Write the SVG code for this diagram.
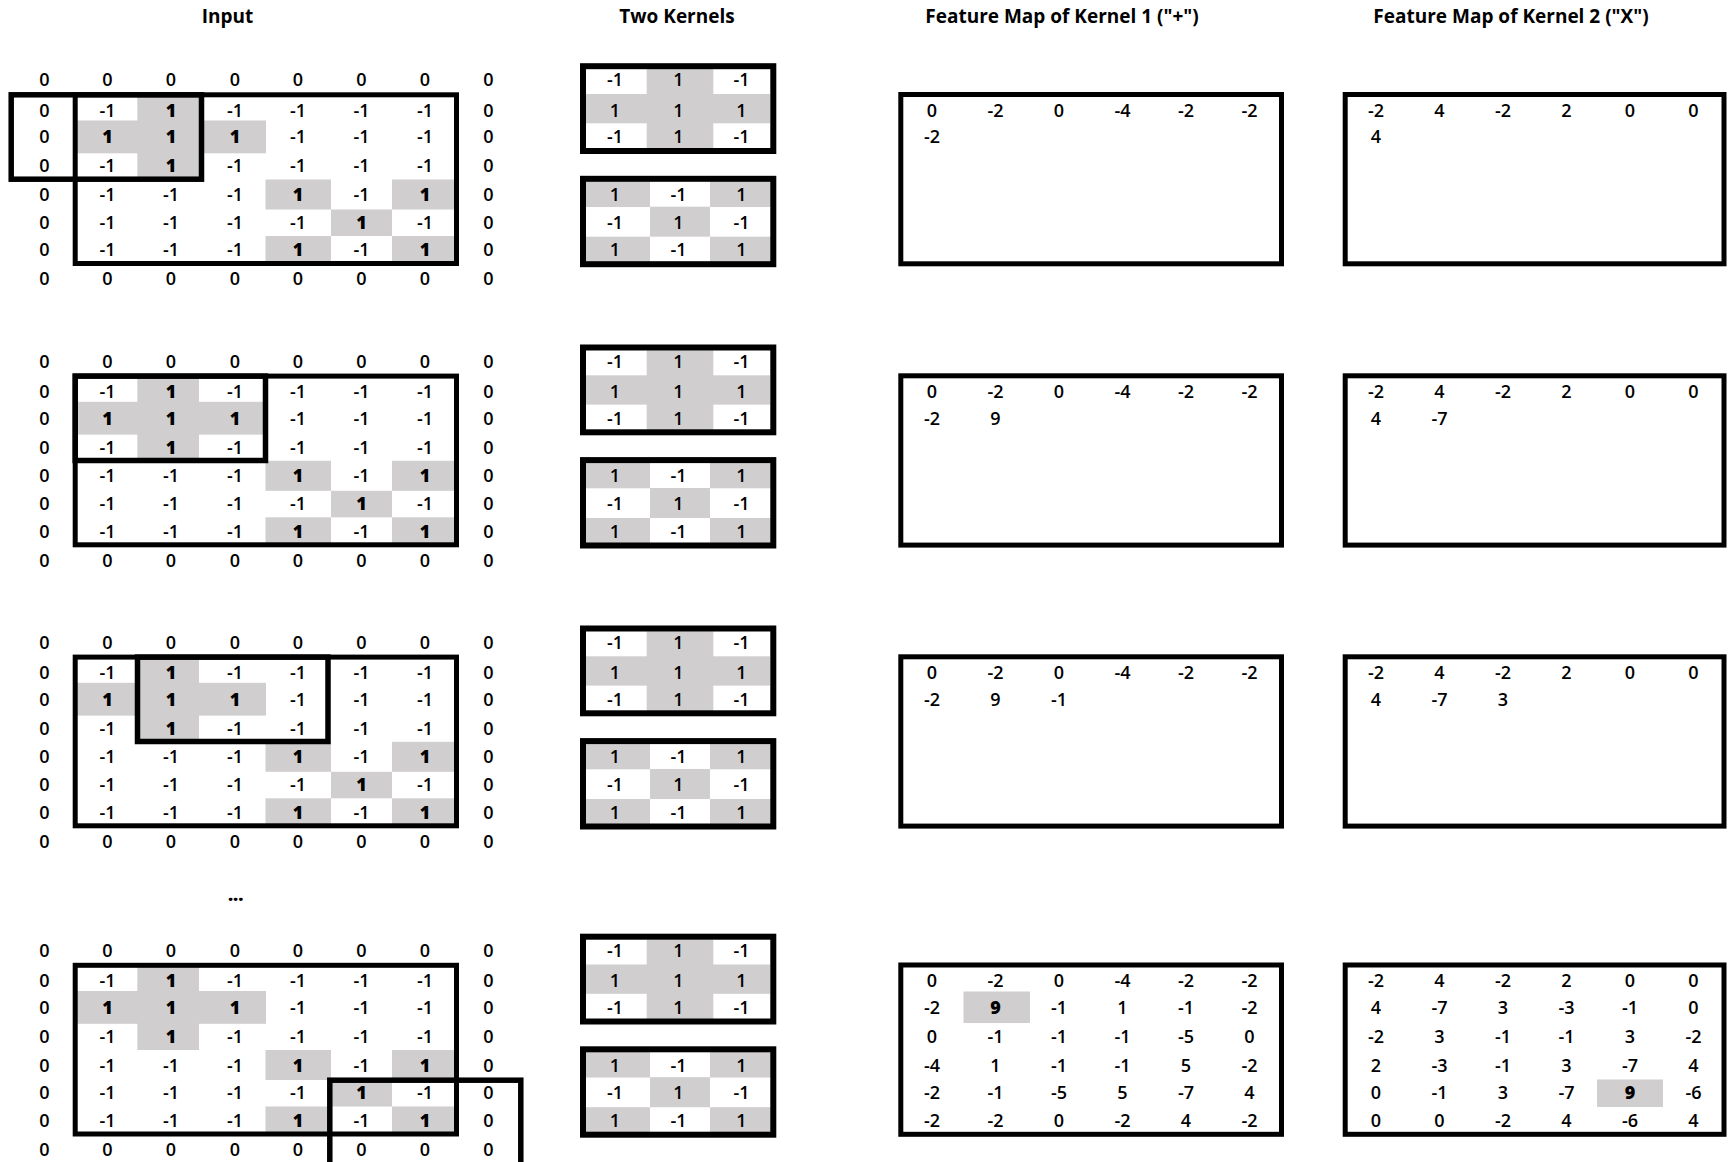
<svg xmlns="http://www.w3.org/2000/svg" width="1733" height="1162" viewBox="0 0 1733 1162">
<style>
.t{font-family:"Open Sans","Liberation Sans",sans-serif;font-size:18px;font-weight:600;text-anchor:middle;fill:#000}
.b{font-weight:800}
.title{font-family:"Open Sans","Liberation Sans",sans-serif;font-size:19px;font-weight:bold;text-anchor:middle;fill:#000}
.g{fill:#D0CECE}
.frame{fill:none;stroke:#000;stroke-width:5}
.kframe{fill:none;stroke:#000;stroke-width:6}
.win{fill:none;stroke:#000;stroke-width:5.5}
</style>
<rect width="1733" height="1162" fill="#fff"/>
<g id="titles">
<text class="title" x="227.5" y="22.5">Input</text>
<text class="title" x="677" y="22.5">Two Kernels</text>
<text class="title" x="1062" y="22.5">Feature Map of Kernel 1 ("+")</text>
<text class="title" x="1511" y="22.5">Feature Map of Kernel 2 ("X")</text>
</g>
<g id="connectors"></g>

<!-- PANEL 1 -->
<g id="panel-1">
<g id="p1-input">
<rect class="g" x="137.3" y="94.8" width="61.7" height="84.7"/>
<rect class="g" x="77" y="120.5" width="189" height="32.8"/>
<rect class="g" x="265.5" y="179.5" width="65.5" height="30"/>
<rect class="g" x="392" y="179.5" width="62" height="30"/>
<rect class="g" x="331" y="209.5" width="61" height="26.5"/>
<rect class="g" x="265.5" y="236" width="65.5" height="27.5"/>
<rect class="g" x="392" y="236" width="62" height="27.5"/>
<rect class="frame" x="75.2" y="94.8" width="381.3" height="168.7"/>
<g class="t">
<text y="86.4"><tspan x="44.5">0</tspan><tspan x="107.5">0</tspan><tspan x="171">0</tspan><tspan x="235">0</tspan><tspan x="298">0</tspan><tspan x="361.5">0</tspan><tspan x="425">0</tspan><tspan x="488.5">0</tspan></text>
<text y="116.9"><tspan x="44.5">0</tspan><tspan x="107.5">-1</tspan><tspan x="171" class="b">1</tspan><tspan x="235">-1</tspan><tspan x="298">-1</tspan><tspan x="361.5">-1</tspan><tspan x="425">-1</tspan><tspan x="488.5">0</tspan></text>
<text y="143.4"><tspan x="44.5">0</tspan><tspan x="107.5" class="b">1</tspan><tspan x="171" class="b">1</tspan><tspan x="235" class="b">1</tspan><tspan x="298">-1</tspan><tspan x="361.5">-1</tspan><tspan x="425">-1</tspan><tspan x="488.5">0</tspan></text>
<text y="172.4"><tspan x="44.5">0</tspan><tspan x="107.5">-1</tspan><tspan x="171" class="b">1</tspan><tspan x="235">-1</tspan><tspan x="298">-1</tspan><tspan x="361.5">-1</tspan><tspan x="425">-1</tspan><tspan x="488.5">0</tspan></text>
<text y="201.2"><tspan x="44.5">0</tspan><tspan x="107.5">-1</tspan><tspan x="171">-1</tspan><tspan x="235">-1</tspan><tspan x="298" class="b">1</tspan><tspan x="361.5">-1</tspan><tspan x="425" class="b">1</tspan><tspan x="488.5">0</tspan></text>
<text y="228.9"><tspan x="44.5">0</tspan><tspan x="107.5">-1</tspan><tspan x="171">-1</tspan><tspan x="235">-1</tspan><tspan x="298">-1</tspan><tspan x="361.5" class="b">1</tspan><tspan x="425">-1</tspan><tspan x="488.5">0</tspan></text>
<text y="256.4"><tspan x="44.5">0</tspan><tspan x="107.5">-1</tspan><tspan x="171">-1</tspan><tspan x="235">-1</tspan><tspan x="298" class="b">1</tspan><tspan x="361.5">-1</tspan><tspan x="425" class="b">1</tspan><tspan x="488.5">0</tspan></text>
<text y="285.4"><tspan x="44.5">0</tspan><tspan x="107.5">0</tspan><tspan x="171">0</tspan><tspan x="235">0</tspan><tspan x="298">0</tspan><tspan x="361.5">0</tspan><tspan x="425">0</tspan><tspan x="488.5">0</tspan></text>
</g>
</g>
<g id="p1-window"><rect class="win" x="11.2" y="94.8" width="190.3" height="84.4"/></g>
<g id="p1-kernel-plus">
<rect class="g" x="646.7" y="69" width="66.6" height="80"/>
<rect class="g" x="586" y="94" width="184" height="29.3"/>
<rect class="kframe" x="583" y="66.2" width="190.3" height="84.8"/>
<g class="t">
<text y="86.4"><tspan x="615">-1</tspan><tspan x="678.5">1</tspan><tspan x="741.5">-1</tspan></text>
<text y="116.9"><tspan x="615">1</tspan><tspan x="678.5">1</tspan><tspan x="741.5">1</tspan></text>
<text y="143.4"><tspan x="615">-1</tspan><tspan x="678.5">1</tspan><tspan x="741.5">-1</tspan></text>
</g>
</g>
<g id="p1-kernel-x">
<rect class="g" x="586" y="181" width="64" height="26"/>
<rect class="g" x="710" y="181" width="61" height="26"/>
<rect class="g" x="650" y="206.7" width="60" height="30"/>
<rect class="g" x="586" y="236.7" width="64" height="26"/>
<rect class="g" x="710" y="236.7" width="61" height="26"/>
<rect class="kframe" x="583" y="178.8" width="190.3" height="85.4"/>
<g class="t">
<text y="201.2"><tspan x="615">1</tspan><tspan x="678.5">-1</tspan><tspan x="741.5">1</tspan></text>
<text y="228.9"><tspan x="615">-1</tspan><tspan x="678.5">1</tspan><tspan x="741.5">-1</tspan></text>
<text y="256.4"><tspan x="615">1</tspan><tspan x="678.5">-1</tspan><tspan x="741.5">1</tspan></text>
</g>
</g>
<g id="p1-fmap1">
<rect class="frame" x="900.8" y="94.5" width="380.7" height="169.3"/>
<g class="t">
<text y="116.9"><tspan x="932">0</tspan><tspan x="995.5">-2</tspan><tspan x="1059">0</tspan><tspan x="1122.5">-4</tspan><tspan x="1186">-2</tspan><tspan x="1249.5">-2</tspan></text>
<text y="143.4"><tspan x="932">-2</tspan></text>
</g>
</g>
<g id="p1-fmap2">
<rect class="frame" x="1345.2" y="94.5" width="378.8" height="169.3"/>
<g class="t">
<text y="116.9"><tspan x="1376">-2</tspan><tspan x="1439.5">4</tspan><tspan x="1503">-2</tspan><tspan x="1566.5">2</tspan><tspan x="1630">0</tspan><tspan x="1693.5">0</tspan></text>
<text y="143.4"><tspan x="1376">4</tspan></text>
</g>
</g>
</g>

<!-- PANEL 2 -->
<g id="panel-2" transform="translate(0,281.3)">
<g id="p2-input">
<rect class="g" x="137.3" y="94.8" width="61.7" height="84.7"/>
<rect class="g" x="77" y="120.5" width="189" height="32.8"/>
<rect class="g" x="265.5" y="179.5" width="65.5" height="30"/>
<rect class="g" x="392" y="179.5" width="62" height="30"/>
<rect class="g" x="331" y="209.5" width="61" height="26.5"/>
<rect class="g" x="265.5" y="236" width="65.5" height="27.5"/>
<rect class="g" x="392" y="236" width="62" height="27.5"/>
<rect class="frame" x="75.2" y="94.8" width="381.3" height="168.7"/>
<g class="t">
<text y="86.4"><tspan x="44.5">0</tspan><tspan x="107.5">0</tspan><tspan x="171">0</tspan><tspan x="235">0</tspan><tspan x="298">0</tspan><tspan x="361.5">0</tspan><tspan x="425">0</tspan><tspan x="488.5">0</tspan></text>
<text y="116.9"><tspan x="44.5">0</tspan><tspan x="107.5">-1</tspan><tspan x="171" class="b">1</tspan><tspan x="235">-1</tspan><tspan x="298">-1</tspan><tspan x="361.5">-1</tspan><tspan x="425">-1</tspan><tspan x="488.5">0</tspan></text>
<text y="143.4"><tspan x="44.5">0</tspan><tspan x="107.5" class="b">1</tspan><tspan x="171" class="b">1</tspan><tspan x="235" class="b">1</tspan><tspan x="298">-1</tspan><tspan x="361.5">-1</tspan><tspan x="425">-1</tspan><tspan x="488.5">0</tspan></text>
<text y="172.4"><tspan x="44.5">0</tspan><tspan x="107.5">-1</tspan><tspan x="171" class="b">1</tspan><tspan x="235">-1</tspan><tspan x="298">-1</tspan><tspan x="361.5">-1</tspan><tspan x="425">-1</tspan><tspan x="488.5">0</tspan></text>
<text y="201.2"><tspan x="44.5">0</tspan><tspan x="107.5">-1</tspan><tspan x="171">-1</tspan><tspan x="235">-1</tspan><tspan x="298" class="b">1</tspan><tspan x="361.5">-1</tspan><tspan x="425" class="b">1</tspan><tspan x="488.5">0</tspan></text>
<text y="228.9"><tspan x="44.5">0</tspan><tspan x="107.5">-1</tspan><tspan x="171">-1</tspan><tspan x="235">-1</tspan><tspan x="298">-1</tspan><tspan x="361.5" class="b">1</tspan><tspan x="425">-1</tspan><tspan x="488.5">0</tspan></text>
<text y="256.4"><tspan x="44.5">0</tspan><tspan x="107.5">-1</tspan><tspan x="171">-1</tspan><tspan x="235">-1</tspan><tspan x="298" class="b">1</tspan><tspan x="361.5">-1</tspan><tspan x="425" class="b">1</tspan><tspan x="488.5">0</tspan></text>
<text y="285.4"><tspan x="44.5">0</tspan><tspan x="107.5">0</tspan><tspan x="171">0</tspan><tspan x="235">0</tspan><tspan x="298">0</tspan><tspan x="361.5">0</tspan><tspan x="425">0</tspan><tspan x="488.5">0</tspan></text>
</g>
</g>
<g id="p2-window"><rect class="win" x="75.2" y="94.8" width="190.3" height="84.4"/></g>
<g id="p2-kernel-plus">
<rect class="g" x="646.7" y="69" width="66.6" height="80"/>
<rect class="g" x="586" y="94" width="184" height="29.3"/>
<rect class="kframe" x="583" y="66.2" width="190.3" height="84.8"/>
<g class="t">
<text y="86.4"><tspan x="615">-1</tspan><tspan x="678.5">1</tspan><tspan x="741.5">-1</tspan></text>
<text y="116.9"><tspan x="615">1</tspan><tspan x="678.5">1</tspan><tspan x="741.5">1</tspan></text>
<text y="143.4"><tspan x="615">-1</tspan><tspan x="678.5">1</tspan><tspan x="741.5">-1</tspan></text>
</g>
</g>
<g id="p2-kernel-x">
<rect class="g" x="586" y="181" width="64" height="26"/>
<rect class="g" x="710" y="181" width="61" height="26"/>
<rect class="g" x="650" y="206.7" width="60" height="30"/>
<rect class="g" x="586" y="236.7" width="64" height="26"/>
<rect class="g" x="710" y="236.7" width="61" height="26"/>
<rect class="kframe" x="583" y="178.8" width="190.3" height="85.4"/>
<g class="t">
<text y="201.2"><tspan x="615">1</tspan><tspan x="678.5">-1</tspan><tspan x="741.5">1</tspan></text>
<text y="228.9"><tspan x="615">-1</tspan><tspan x="678.5">1</tspan><tspan x="741.5">-1</tspan></text>
<text y="256.4"><tspan x="615">1</tspan><tspan x="678.5">-1</tspan><tspan x="741.5">1</tspan></text>
</g>
</g>
<g id="p2-fmap1">
<rect class="frame" x="900.8" y="94.5" width="380.7" height="169.3"/>
<g class="t">
<text y="116.9"><tspan x="932">0</tspan><tspan x="995.5">-2</tspan><tspan x="1059">0</tspan><tspan x="1122.5">-4</tspan><tspan x="1186">-2</tspan><tspan x="1249.5">-2</tspan></text>
<text y="143.4"><tspan x="932">-2</tspan><tspan x="995.5">9</tspan></text>
</g>
</g>
<g id="p2-fmap2">
<rect class="frame" x="1345.2" y="94.5" width="378.8" height="169.3"/>
<g class="t">
<text y="116.9"><tspan x="1376">-2</tspan><tspan x="1439.5">4</tspan><tspan x="1503">-2</tspan><tspan x="1566.5">2</tspan><tspan x="1630">0</tspan><tspan x="1693.5">0</tspan></text>
<text y="143.4"><tspan x="1376">4</tspan><tspan x="1439.5">-7</tspan></text>
</g>
</g>
</g>

<!-- PANEL 3 -->
<g id="panel-3" transform="translate(0,562.3)">
<g id="p3-input">
<rect class="g" x="137.3" y="94.8" width="61.7" height="84.7"/>
<rect class="g" x="77" y="120.5" width="189" height="32.8"/>
<rect class="g" x="265.5" y="179.5" width="65.5" height="30"/>
<rect class="g" x="392" y="179.5" width="62" height="30"/>
<rect class="g" x="331" y="209.5" width="61" height="26.5"/>
<rect class="g" x="265.5" y="236" width="65.5" height="27.5"/>
<rect class="g" x="392" y="236" width="62" height="27.5"/>
<rect class="frame" x="75.2" y="94.8" width="381.3" height="168.7"/>
<g class="t">
<text y="86.4"><tspan x="44.5">0</tspan><tspan x="107.5">0</tspan><tspan x="171">0</tspan><tspan x="235">0</tspan><tspan x="298">0</tspan><tspan x="361.5">0</tspan><tspan x="425">0</tspan><tspan x="488.5">0</tspan></text>
<text y="116.9"><tspan x="44.5">0</tspan><tspan x="107.5">-1</tspan><tspan x="171" class="b">1</tspan><tspan x="235">-1</tspan><tspan x="298">-1</tspan><tspan x="361.5">-1</tspan><tspan x="425">-1</tspan><tspan x="488.5">0</tspan></text>
<text y="143.4"><tspan x="44.5">0</tspan><tspan x="107.5" class="b">1</tspan><tspan x="171" class="b">1</tspan><tspan x="235" class="b">1</tspan><tspan x="298">-1</tspan><tspan x="361.5">-1</tspan><tspan x="425">-1</tspan><tspan x="488.5">0</tspan></text>
<text y="172.4"><tspan x="44.5">0</tspan><tspan x="107.5">-1</tspan><tspan x="171" class="b">1</tspan><tspan x="235">-1</tspan><tspan x="298">-1</tspan><tspan x="361.5">-1</tspan><tspan x="425">-1</tspan><tspan x="488.5">0</tspan></text>
<text y="201.2"><tspan x="44.5">0</tspan><tspan x="107.5">-1</tspan><tspan x="171">-1</tspan><tspan x="235">-1</tspan><tspan x="298" class="b">1</tspan><tspan x="361.5">-1</tspan><tspan x="425" class="b">1</tspan><tspan x="488.5">0</tspan></text>
<text y="228.9"><tspan x="44.5">0</tspan><tspan x="107.5">-1</tspan><tspan x="171">-1</tspan><tspan x="235">-1</tspan><tspan x="298">-1</tspan><tspan x="361.5" class="b">1</tspan><tspan x="425">-1</tspan><tspan x="488.5">0</tspan></text>
<text y="256.4"><tspan x="44.5">0</tspan><tspan x="107.5">-1</tspan><tspan x="171">-1</tspan><tspan x="235">-1</tspan><tspan x="298" class="b">1</tspan><tspan x="361.5">-1</tspan><tspan x="425" class="b">1</tspan><tspan x="488.5">0</tspan></text>
<text y="285.4"><tspan x="44.5">0</tspan><tspan x="107.5">0</tspan><tspan x="171">0</tspan><tspan x="235">0</tspan><tspan x="298">0</tspan><tspan x="361.5">0</tspan><tspan x="425">0</tspan><tspan x="488.5">0</tspan></text>
</g>
</g>
<g id="p3-window"><rect class="win" x="137.5" y="94.8" width="190.5" height="84.4"/></g>
<g id="p3-kernel-plus">
<rect class="g" x="646.7" y="69" width="66.6" height="80"/>
<rect class="g" x="586" y="94" width="184" height="29.3"/>
<rect class="kframe" x="583" y="66.2" width="190.3" height="84.8"/>
<g class="t">
<text y="86.4"><tspan x="615">-1</tspan><tspan x="678.5">1</tspan><tspan x="741.5">-1</tspan></text>
<text y="116.9"><tspan x="615">1</tspan><tspan x="678.5">1</tspan><tspan x="741.5">1</tspan></text>
<text y="143.4"><tspan x="615">-1</tspan><tspan x="678.5">1</tspan><tspan x="741.5">-1</tspan></text>
</g>
</g>
<g id="p3-kernel-x">
<rect class="g" x="586" y="181" width="64" height="26"/>
<rect class="g" x="710" y="181" width="61" height="26"/>
<rect class="g" x="650" y="206.7" width="60" height="30"/>
<rect class="g" x="586" y="236.7" width="64" height="26"/>
<rect class="g" x="710" y="236.7" width="61" height="26"/>
<rect class="kframe" x="583" y="178.8" width="190.3" height="85.4"/>
<g class="t">
<text y="201.2"><tspan x="615">1</tspan><tspan x="678.5">-1</tspan><tspan x="741.5">1</tspan></text>
<text y="228.9"><tspan x="615">-1</tspan><tspan x="678.5">1</tspan><tspan x="741.5">-1</tspan></text>
<text y="256.4"><tspan x="615">1</tspan><tspan x="678.5">-1</tspan><tspan x="741.5">1</tspan></text>
</g>
</g>
<g id="p3-fmap1">
<rect class="frame" x="900.8" y="94.5" width="380.7" height="169.3"/>
<g class="t">
<text y="116.9"><tspan x="932">0</tspan><tspan x="995.5">-2</tspan><tspan x="1059">0</tspan><tspan x="1122.5">-4</tspan><tspan x="1186">-2</tspan><tspan x="1249.5">-2</tspan></text>
<text y="143.4"><tspan x="932">-2</tspan><tspan x="995.5">9</tspan><tspan x="1059">-1</tspan></text>
</g>
</g>
<g id="p3-fmap2">
<rect class="frame" x="1345.2" y="94.5" width="378.8" height="169.3"/>
<g class="t">
<text y="116.9"><tspan x="1376">-2</tspan><tspan x="1439.5">4</tspan><tspan x="1503">-2</tspan><tspan x="1566.5">2</tspan><tspan x="1630">0</tspan><tspan x="1693.5">0</tspan></text>
<text y="143.4"><tspan x="1376">4</tspan><tspan x="1439.5">-7</tspan><tspan x="1503">3</tspan></text>
</g>
</g>
</g>

<g id="ellipsis"><text class="t b" x="235.7" y="900.5">...</text></g>

<!-- PANEL 4 -->
<g id="panel-4" transform="translate(0,870.5)">
<g id="p4-input">
<rect class="g" x="137.3" y="94.8" width="61.7" height="84.7"/>
<rect class="g" x="77" y="120.5" width="189" height="32.8"/>
<rect class="g" x="265.5" y="179.5" width="65.5" height="30"/>
<rect class="g" x="392" y="179.5" width="62" height="30"/>
<rect class="g" x="331" y="209.5" width="61" height="26.5"/>
<rect class="g" x="265.5" y="236" width="65.5" height="27.5"/>
<rect class="g" x="392" y="236" width="62" height="27.5"/>
<rect class="frame" x="75.2" y="94.8" width="381.3" height="168.7"/>
<g class="t">
<text y="86.4"><tspan x="44.5">0</tspan><tspan x="107.5">0</tspan><tspan x="171">0</tspan><tspan x="235">0</tspan><tspan x="298">0</tspan><tspan x="361.5">0</tspan><tspan x="425">0</tspan><tspan x="488.5">0</tspan></text>
<text y="116.9"><tspan x="44.5">0</tspan><tspan x="107.5">-1</tspan><tspan x="171" class="b">1</tspan><tspan x="235">-1</tspan><tspan x="298">-1</tspan><tspan x="361.5">-1</tspan><tspan x="425">-1</tspan><tspan x="488.5">0</tspan></text>
<text y="143.4"><tspan x="44.5">0</tspan><tspan x="107.5" class="b">1</tspan><tspan x="171" class="b">1</tspan><tspan x="235" class="b">1</tspan><tspan x="298">-1</tspan><tspan x="361.5">-1</tspan><tspan x="425">-1</tspan><tspan x="488.5">0</tspan></text>
<text y="172.4"><tspan x="44.5">0</tspan><tspan x="107.5">-1</tspan><tspan x="171" class="b">1</tspan><tspan x="235">-1</tspan><tspan x="298">-1</tspan><tspan x="361.5">-1</tspan><tspan x="425">-1</tspan><tspan x="488.5">0</tspan></text>
<text y="201.2"><tspan x="44.5">0</tspan><tspan x="107.5">-1</tspan><tspan x="171">-1</tspan><tspan x="235">-1</tspan><tspan x="298" class="b">1</tspan><tspan x="361.5">-1</tspan><tspan x="425" class="b">1</tspan><tspan x="488.5">0</tspan></text>
<text y="228.9"><tspan x="44.5">0</tspan><tspan x="107.5">-1</tspan><tspan x="171">-1</tspan><tspan x="235">-1</tspan><tspan x="298">-1</tspan><tspan x="361.5" class="b">1</tspan><tspan x="425">-1</tspan><tspan x="488.5">0</tspan></text>
<text y="256.4"><tspan x="44.5">0</tspan><tspan x="107.5">-1</tspan><tspan x="171">-1</tspan><tspan x="235">-1</tspan><tspan x="298" class="b">1</tspan><tspan x="361.5">-1</tspan><tspan x="425" class="b">1</tspan><tspan x="488.5">0</tspan></text>
<text y="285.4"><tspan x="44.5">0</tspan><tspan x="107.5">0</tspan><tspan x="171">0</tspan><tspan x="235">0</tspan><tspan x="298">0</tspan><tspan x="361.5">0</tspan><tspan x="425">0</tspan><tspan x="488.5">0</tspan></text>
</g>
</g>
<g id="p4-window"><rect class="win" x="329.8" y="209.7" width="191" height="100"/></g>
<g id="p4-kernel-plus">
<rect class="g" x="646.7" y="69" width="66.6" height="80"/>
<rect class="g" x="586" y="94" width="184" height="29.3"/>
<rect class="kframe" x="583" y="66.2" width="190.3" height="84.8"/>
<g class="t">
<text y="86.4"><tspan x="615">-1</tspan><tspan x="678.5">1</tspan><tspan x="741.5">-1</tspan></text>
<text y="116.9"><tspan x="615">1</tspan><tspan x="678.5">1</tspan><tspan x="741.5">1</tspan></text>
<text y="143.4"><tspan x="615">-1</tspan><tspan x="678.5">1</tspan><tspan x="741.5">-1</tspan></text>
</g>
</g>
<g id="p4-kernel-x">
<rect class="g" x="586" y="181" width="64" height="26"/>
<rect class="g" x="710" y="181" width="61" height="26"/>
<rect class="g" x="650" y="206.7" width="60" height="30"/>
<rect class="g" x="586" y="236.7" width="64" height="26"/>
<rect class="g" x="710" y="236.7" width="61" height="26"/>
<rect class="kframe" x="583" y="178.8" width="190.3" height="85.4"/>
<g class="t">
<text y="201.2"><tspan x="615">1</tspan><tspan x="678.5">-1</tspan><tspan x="741.5">1</tspan></text>
<text y="228.9"><tspan x="615">-1</tspan><tspan x="678.5">1</tspan><tspan x="741.5">-1</tspan></text>
<text y="256.4"><tspan x="615">1</tspan><tspan x="678.5">-1</tspan><tspan x="741.5">1</tspan></text>
</g>
</g>
<g id="p4-fmap1">
<rect class="g" x="963.5" y="121" width="66.5" height="31.5"/>
<rect class="frame" x="900.8" y="94.5" width="380.7" height="169.3"/>
<g class="t">
<text y="116.9"><tspan x="932">0</tspan><tspan x="995.5">-2</tspan><tspan x="1059">0</tspan><tspan x="1122.5">-4</tspan><tspan x="1186">-2</tspan><tspan x="1249.5">-2</tspan></text>
<text y="143.4"><tspan x="932">-2</tspan><tspan x="995.5" class="b">9</tspan><tspan x="1059">-1</tspan><tspan x="1122.5">1</tspan><tspan x="1186">-1</tspan><tspan x="1249.5">-2</tspan></text>
<text y="172.4"><tspan x="932">0</tspan><tspan x="995.5">-1</tspan><tspan x="1059">-1</tspan><tspan x="1122.5">-1</tspan><tspan x="1186">-5</tspan><tspan x="1249.5">0</tspan></text>
<text y="201.2"><tspan x="932">-4</tspan><tspan x="995.5">1</tspan><tspan x="1059">-1</tspan><tspan x="1122.5">-1</tspan><tspan x="1186">5</tspan><tspan x="1249.5">-2</tspan></text>
<text y="228.9"><tspan x="932">-2</tspan><tspan x="995.5">-1</tspan><tspan x="1059">-5</tspan><tspan x="1122.5">5</tspan><tspan x="1186">-7</tspan><tspan x="1249.5">4</tspan></text>
<text y="256.4"><tspan x="932">-2</tspan><tspan x="995.5">-2</tspan><tspan x="1059">0</tspan><tspan x="1122.5">-2</tspan><tspan x="1186">4</tspan><tspan x="1249.5">-2</tspan></text>
</g>
</g>
<g id="p4-fmap2">
<rect class="g" x="1597" y="209" width="66" height="27.5"/>
<rect class="frame" x="1345.2" y="94.5" width="378.8" height="169.3"/>
<g class="t">
<text y="116.9"><tspan x="1376">-2</tspan><tspan x="1439.5">4</tspan><tspan x="1503">-2</tspan><tspan x="1566.5">2</tspan><tspan x="1630">0</tspan><tspan x="1693.5">0</tspan></text>
<text y="143.4"><tspan x="1376">4</tspan><tspan x="1439.5">-7</tspan><tspan x="1503">3</tspan><tspan x="1566.5">-3</tspan><tspan x="1630">-1</tspan><tspan x="1693.5">0</tspan></text>
<text y="172.4"><tspan x="1376">-2</tspan><tspan x="1439.5">3</tspan><tspan x="1503">-1</tspan><tspan x="1566.5">-1</tspan><tspan x="1630">3</tspan><tspan x="1693.5">-2</tspan></text>
<text y="201.2"><tspan x="1376">2</tspan><tspan x="1439.5">-3</tspan><tspan x="1503">-1</tspan><tspan x="1566.5">3</tspan><tspan x="1630">-7</tspan><tspan x="1693.5">4</tspan></text>
<text y="228.9"><tspan x="1376">0</tspan><tspan x="1439.5">-1</tspan><tspan x="1503">3</tspan><tspan x="1566.5">-7</tspan><tspan x="1630" class="b">9</tspan><tspan x="1693.5">-6</tspan></text>
<text y="256.4"><tspan x="1376">0</tspan><tspan x="1439.5">0</tspan><tspan x="1503">-2</tspan><tspan x="1566.5">4</tspan><tspan x="1630">-6</tspan><tspan x="1693.5">4</tspan></text>
</g>
</g>
</g>
</svg>
